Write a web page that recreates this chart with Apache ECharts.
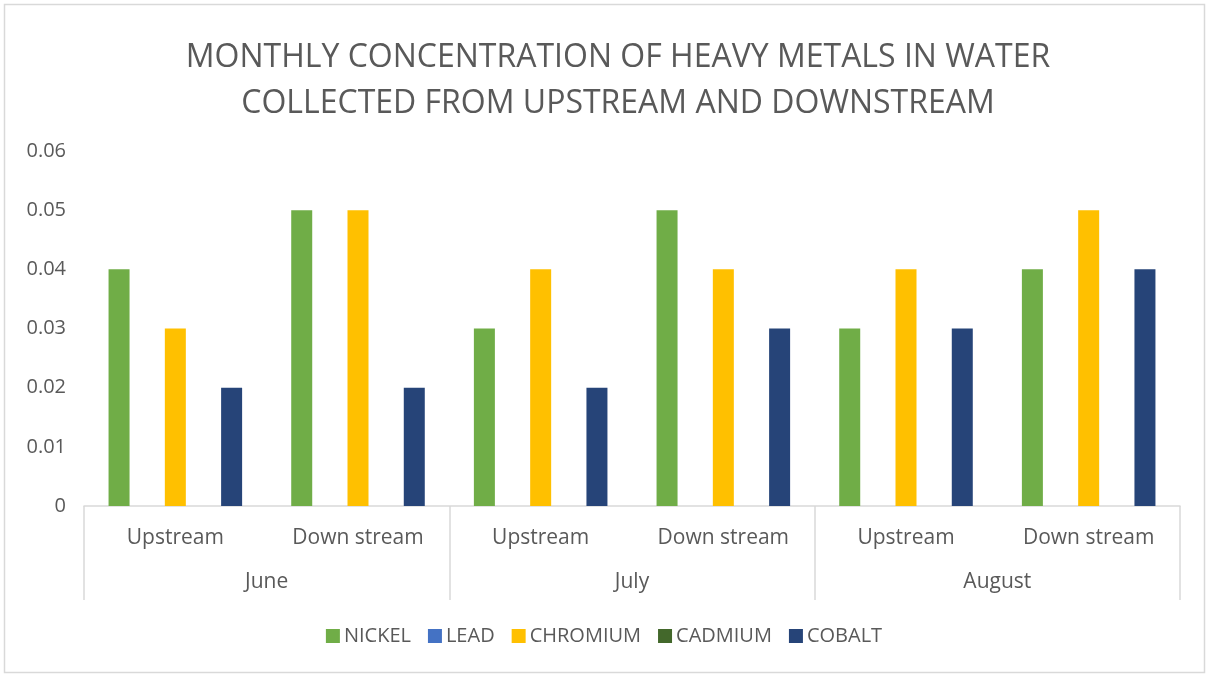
<!DOCTYPE html>
<html><head><meta charset="utf-8">
<script src="https://cdn.jsdelivr.net/npm/echarts@6/dist/echarts.min.js"></script>
<style>html,body{margin:0;padding:0;background:#fff}#c{width:1208px;height:675px}</style>
</head><body><div id="c"></div>
<script>
const subCategories = ['Upstream','Down stream','Upstream','Down stream','Upstream','Down stream'];
const months = ['June','July','August'];
const seriesNames = ['NICKEL','LEAD','CHROMIUM','CADMIUM','COBALT'];
const nickel   = [0.04, 0.05, 0.03, 0.05, 0.03, 0.04];
const lead     = [0, 0, 0, 0, 0, 0];
const chromium = [0.03, 0.05, 0.04, 0.04, 0.04, 0.05];
const cadmium  = [0, 0, 0, 0, 0, 0];
const cobalt   = [0.02, 0.02, 0.02, 0.03, 0.03, 0.04];
const yTicks = [0, 0.01, 0.02, 0.03, 0.04, 0.05, 0.06];

const colors = ['#70AD47','#4472C4','#FFC000','#43682B','#264478'];
const values = [nickel, lead, chromium, cadmium, cobalt];
const font = 'Open Sans';
const chart = echarts.init(document.getElementById('c'));
chart.setOption({
  animation: false,
  textStyle: {fontFamily: font},
  title: {
    text: 'MONTHLY CONCENTRATION OF HEAVY METALS IN WATER\nCOLLECTED FROM UPSTREAM AND DOWNSTREAM',
    left: 613, textAlign: 'center', top: 30,
    textStyle: {fontFamily: font, fontSize: 32, fontWeight: 'normal', color: '#595959', lineHeight: 46}
  },
  legend: {
    bottom: 24, left: 'center', itemWidth: 14, itemHeight: 14, itemGap: 17,
    icon: 'rect',
    textStyle: {fontFamily: font, fontSize: 20, color: '#595959', padding: [0,0,0,-1]},
    data: seriesNames
  },
  grid: {left: 84, right: 28, top: 151, bottom: 169},
  xAxis: [
    {
      type: 'category', data: subCategories, position: 'bottom',
      axisLine: {lineStyle: {color: '#d9d9d9', width: 1.5}},
      axisTick: {show: false},
      axisLabel: {fontFamily: font, fontSize: 21, color: '#595959', margin: 22, interval: 0}
    },
    {
      type: 'category', data: months, position: 'bottom', boundaryGap: true,
      axisLine: {show: false},
      axisTick: {show: true, length: 94, inside: false, lineStyle: {color: '#d9d9d9', width: 1.5}},
      axisLabel: {fontFamily: font, fontSize: 21, color: '#595959', margin: 66, interval: 0}
    }
  ],
  yAxis: {
    type: 'value', min: 0, max: 0.06, interval: 0.01,
    axisLine: {show: false}, axisTick: {show: false},
    splitLine: {show: false},
    axisLabel: {fontFamily: font, fontSize: 20, color: '#595959', margin: 18,
      formatter: v => { const t = yTicks.find(x => Math.abs(x - v) < 1e-9); return t === 0 ? '0' : String(+v.toFixed(2)); }}
  },
  graphic: [{
    type: 'rect', shape: {x: 4.5, y: 4.5, width: 1200, height: 668},
    style: {fill: 'none', stroke: '#d9d9d9', lineWidth: 1.5}, silent: true
  }],
  series: seriesNames.map((n, i) => ({
    name: n, type: 'bar', data: values[i], xAxisIndex: 0,
    barWidth: 21, barGap: '34%',
    itemStyle: {color: colors[i]}
  }))
});
</script></body></html>
